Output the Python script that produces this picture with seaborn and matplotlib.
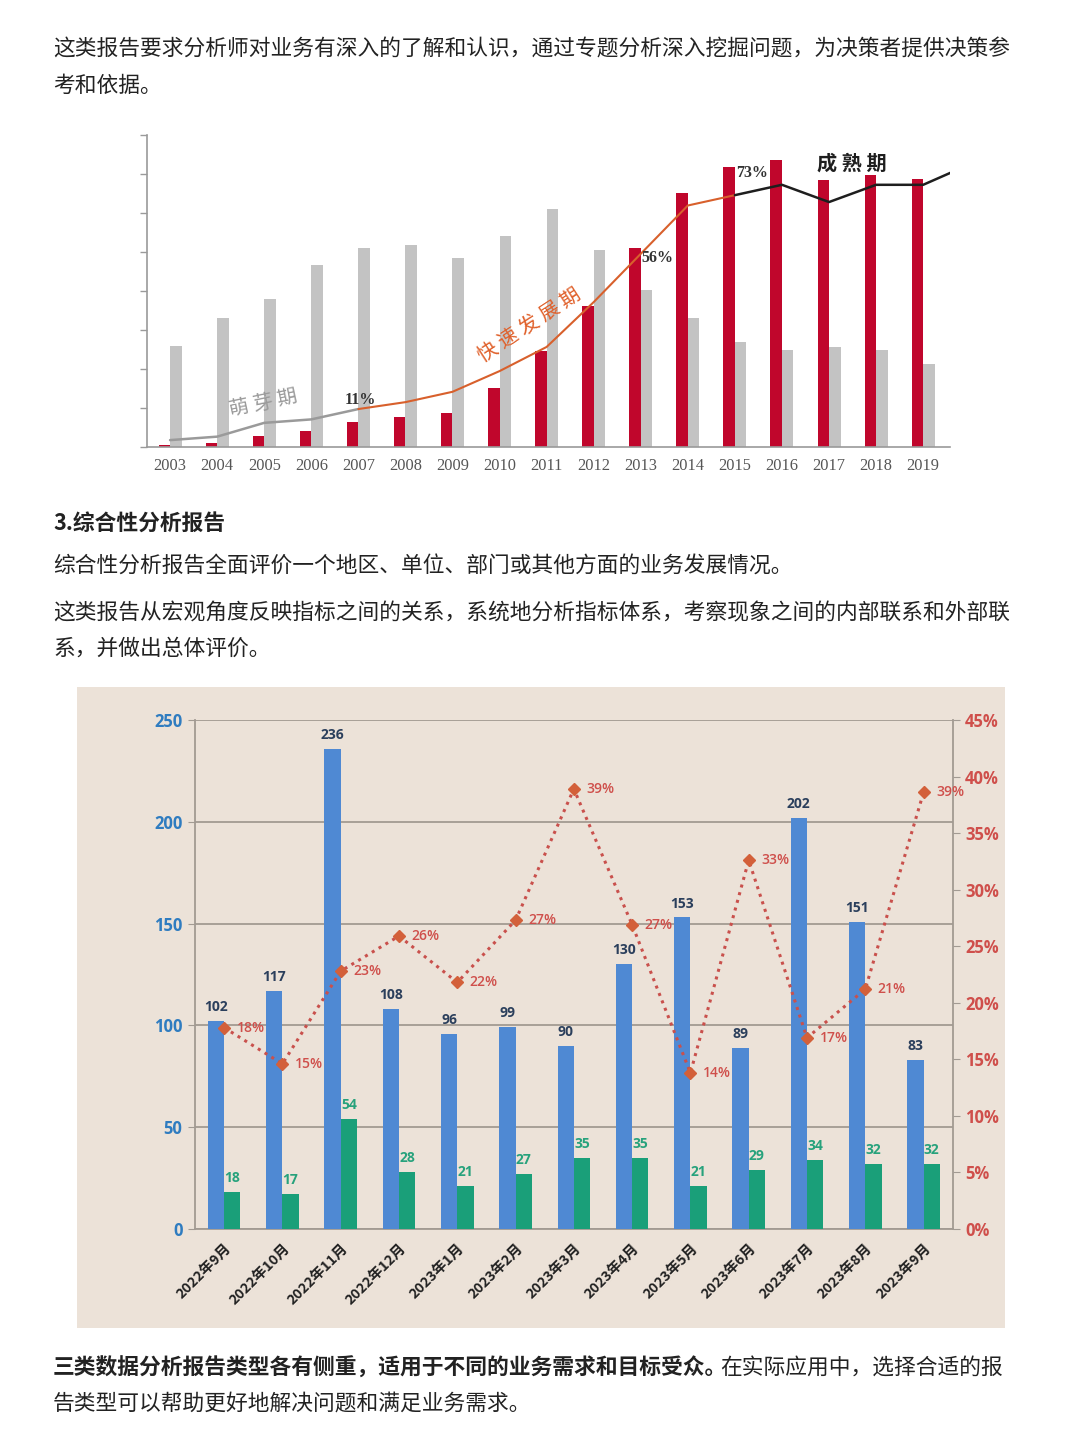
import matplotlib
matplotlib.use('Agg')
import matplotlib.pyplot as plt
import numpy as np
import pandas as pd
import seaborn as sns

W, H = 1080, 1440

# ---- top chart: yearly bars (no y labels in the source, arbitrary units) ----
years = [str(y) for y in range(2003, 2020)]
red_vals = [3, 5, 14, 20, 32, 38, 44, 76, 123, 181, 255, 326, 359, 368, 342, 349, 344]
grey_vals = [130, 165, 190, 233, 255, 259, 242, 271, 305, 253, 201, 166, 135, 124, 128, 124, 106]
# share line, last point runs off the right edge of the frame
share_pct = [2, 3, 7, 8, 11, 13, 16, 22, 29, 42, 56, 70, 73, 76, 71, 76, 76, 82]

# ---- bottom chart: monthly counts and ratio ----
months = ['2022年9月', '2022年10月', '2022年11月', '2022年12月', '2023年1月',
          '2023年2月', '2023年3月', '2023年4月', '2023年5月', '2023年6月',
          '2023年7月', '2023年8月', '2023年9月']
blue_vals = [102, 117, 236, 108, 96, 99, 90, 130, 153, 89, 202, 151, 83]
green_vals = [18, 17, 54, 28, 21, 27, 35, 35, 21, 29, 34, 32, 32]
ratio_pct = [17.8, 14.6, 22.8, 25.9, 21.8, 27.3, 38.9, 26.9, 13.8, 32.6, 16.9, 21.2, 38.6]

para_top = ['这类报告要求分析师对业务有深入的了解和认识，通过专题分析深入挖掘问题，为决策者提供决策参',
            '考和依据。']
para_mid = ['综合性分析报告全面评价一个地区、单位、部门或其他方面的业务发展情况。',
            '这类报告从宏观角度反映指标之间的关系，系统地分析指标体系，考察现象之间的内部联系和外部联',
            '系，并做出总体评价。']
heading = '3.综合性分析报告'
closing_bold = '三类数据分析报告类型各有侧重，适用于不同的业务需求和目标受众。'
closing_rest = ['在实际应用中，选择合适的报', '告类型可以帮助更好地解决问题和满足业务需求。']

sns.set_style('white')
plt.rcParams['font.family'] = ['Noto Sans CJK SC', 'DejaVu Sans']

fig = plt.figure(figsize=(W / 100, H / 100), dpi=100)
fig.patch.set_facecolor('white')


def fx(x):
    return x / W


def fy(y):
    return 1 - y / H


TXT = '#222222'
FS = 15.65
x0 = 53

# ---- paragraphs ----
fig.text(fx(x0), fy(50), para_top[0], fontsize=FS, color=TXT, va='center')
fig.text(fx(x0), fy(86), para_top[1], fontsize=FS, color=TXT, va='center')
fig.text(fx(x0), fy(523), heading, fontsize=FS, color=TXT, va='center', fontweight='bold')
fig.text(fx(x0), fy(567), para_mid[0], fontsize=FS, color=TXT, va='center')
fig.text(fx(x0), fy(613), para_mid[1], fontsize=FS, color=TXT, va='center')
fig.text(fx(x0), fy(649), para_mid[2], fontsize=FS, color=TXT, va='center')
tb = fig.text(fx(x0), fy(1368), closing_bold, fontsize=15.7, color=TXT, va='center', fontweight='bold')
fig.canvas.draw()
bb = tb.get_window_extent(fig.canvas.get_renderer())
fig.text(bb.x1 / W - 0.007, fy(1368), closing_rest[0], fontsize=FS, color=TXT, va='center')
fig.text(fx(x0), fy(1404), closing_rest[1], fontsize=FS, color=TXT, va='center')

# ---- top chart ----
top = pd.DataFrame({
    'year': years * 2,
    'kind': ['red'] * len(years) + ['grey'] * len(years),
    'value': red_vals + grey_vals,
})
ax1 = fig.add_axes([fx(147), fy(447), (950 - 147) / W, (447 - 135) / H])
ax1.set_facecolor('none')
sns.barplot(data=top, x='year', y='value', hue='kind', hue_order=['red', 'grey'],
            order=years, palette={'red': '#c0062c', 'grey': '#c3c3c3'},
            width=0.49, saturation=1, legend=False, ax=ax1, linewidth=0)
ax1.set_ylim(0, 400)
ax1.set_yticks(np.arange(0, 401, 50))
ax1.set_yticklabels([])
ax1.set_xlabel('')
ax1.set_ylabel('')
for s in ['top', 'right']:
    ax1.spines[s].set_visible(False)
for s in ['left', 'bottom']:
    ax1.spines[s].set_color('#9a9a9a')
    ax1.spines[s].set_linewidth(1.2)
ax1.tick_params(axis='y', length=5, color='#9a9a9a', direction='out', width=1)
ax1.set_xticks(range(len(years)))
ax1.set_xticklabels(years, family=['Liberation Serif'], fontsize=11.8, color='#555555')
ax1.set_xticks(np.arange(-0.5, len(years), 1), minor=True)
ax1.tick_params(axis='x', which='major', length=0, pad=8)
ax1.tick_params(axis='x', which='minor', length=4, color='#9a9a9a', direction='out')

ax1b = ax1.twinx()
ax1b.set_ylim(0, 312 / 3.45)
ax1b.axis('off')
xs = np.arange(len(share_pct))
ax1b.plot(xs[:5], share_pct[:5], color='#9a9a9a', lw=1.8)
ax1b.plot(xs[4:13], share_pct[4:13], color='#d8602c', lw=1.5)
ax1b.plot(xs[12:], share_pct[12:], color='#1e1e1e', lw=1.8)
ax1.set_xlim(-0.49, 16.57)
ax1b.set_xlim(-0.49, 16.57)

serif = ['Liberation Serif']
fig.text(fx(360), fy(400), '11%', fontsize=11.5, family=serif, fontweight='bold', color='#333', ha='center', va='center')
fig.text(fx(657), fy(258), '56%', fontsize=11.5, family=serif, fontweight='bold', color='#333', ha='center', va='center')
fig.text(fx(752), fy(173), '73%', fontsize=11.5, family=serif, fontweight='bold', color='#333', ha='center', va='center')
fig.text(fx(852), fy(163), '成 熟 期', fontsize=14.5, fontweight='bold', color='#1e1e1e', ha='center', va='center')
fig.text(fx(263), fy(403), '萌 芽 期', fontsize=14.5, color='#9a9a9a', ha='center', va='center', rotation=12,
         rotation_mode='anchor')
fig.text(fx(530), fy(325), '快 速 发 展 期', fontsize=14.5, color='#e0602a', ha='center', va='center',
         rotation=33, rotation_mode='anchor')

# ---- bottom chart ----
bg = fig.add_axes([fx(77), fy(1328), (1005 - 77) / W, (1328 - 687) / H], zorder=-5)
bg.set_facecolor('#ece2d8')
bg.set_xticks([])
bg.set_yticks([])
for s in bg.spines.values():
    s.set_visible(False)

bottom = pd.DataFrame({
    'month': months * 2,
    'kind': ['blue'] * len(months) + ['green'] * len(months),
    'value': blue_vals + green_vals,
})
GRID = '#a29a92'
SANS = ['Open Sans', 'DejaVu Sans']
ax2 = fig.add_axes([fx(195), fy(1229), (952.7 - 195) / W, (1229 - 720) / H])
ax2.set_facecolor('none')
sns.barplot(data=bottom, x='month', y='value', hue='kind', hue_order=['blue', 'green'],
            order=months, palette={'blue': '#4f89d3', 'green': '#1a9f79'},
            width=0.56, saturation=1, legend=False, ax=ax2, linewidth=0, zorder=3)
ax2.set_ylim(0, 250)
ax2.set_xlim(-0.5, len(months) - 0.5)
ax2.set_yticks(np.arange(0, 251, 50))
ax2.set_yticklabels([str(v) for v in range(0, 251, 50)], fontsize=12, fontweight='bold',
                    color='#2f7cc0', family=SANS)
ax2.yaxis.grid(True, color=GRID, lw=1.3)
ax2.set_axisbelow(True)
ax2.set_xlabel('')
ax2.set_ylabel('')
ax2.spines['top'].set_visible(False)
ax2.spines['right'].set_visible(False)
for s in ['left', 'bottom']:
    ax2.spines[s].set_color(GRID)
    ax2.spines[s].set_linewidth(1.3)
ax2.tick_params(axis='y', length=5, color=GRID, direction='out', pad=4)
ax2.set_xticks(range(len(months)))
ax2.set_xticklabels(months, rotation=45, ha='right', rotation_mode='anchor',
                    fontsize=10.3, fontweight='bold', color='#222222')
ax2.set_xticks(np.arange(-0.5, len(months), 1), minor=True)
ax2.tick_params(axis='x', which='major', length=0, pad=9)
ax2.tick_params(axis='x', which='minor', length=5, color=GRID, direction='out', width=1.3)

off = 0.14
for i, (b, g) in enumerate(zip(blue_vals, green_vals)):
    ax2.annotate(str(b), (i - off, b), xytext=(0, 5), textcoords='offset points',
                 ha='center', va='bottom', fontsize=10, fontweight='bold', color='#2b3f5c',
                 family=SANS, zorder=5)
    ax2.annotate(str(g), (i + off, g), xytext=(0, 5), textcoords='offset points',
                 ha='center', va='bottom', fontsize=10, fontweight='bold', color='#27a27c',
                 family=SANS, zorder=5)

ax3 = ax2.twinx()
ax3.set_ylim(0, 45)
ax3.set_xlim(-0.5, len(months) - 0.5)
ax3.plot(range(len(months)), ratio_pct, linestyle=(0, (1, 1.6)), lw=2.2, color='#c9504c',
         marker='D', markersize=6, markerfacecolor='#d3603a', markeredgecolor='#d3603a', zorder=6)
for i, v in enumerate(ratio_pct):
    ax3.annotate(f'{v:.0f}%', (i, v), xytext=(9, 0), textcoords='offset points',
                 ha='left', va='center', fontsize=10, fontweight='semibold', color='#cf4f4b',
                 family=SANS)
ax3.set_yticks(np.arange(0, 46, 5))
ax3.set_yticklabels([f'{v}%' for v in range(0, 46, 5)], fontsize=12, fontweight='bold',
                    color='#cf4f4b', family=SANS)
ax3.tick_params(axis='y', length=5, color=GRID, direction='out', pad=4)
for s in ['top', 'left', 'bottom']:
    ax3.spines[s].set_visible(False)
ax3.spines['right'].set_color(GRID)
ax3.spines['right'].set_linewidth(1.3)

fig.savefig('out.png', dpi=100, facecolor='white')
